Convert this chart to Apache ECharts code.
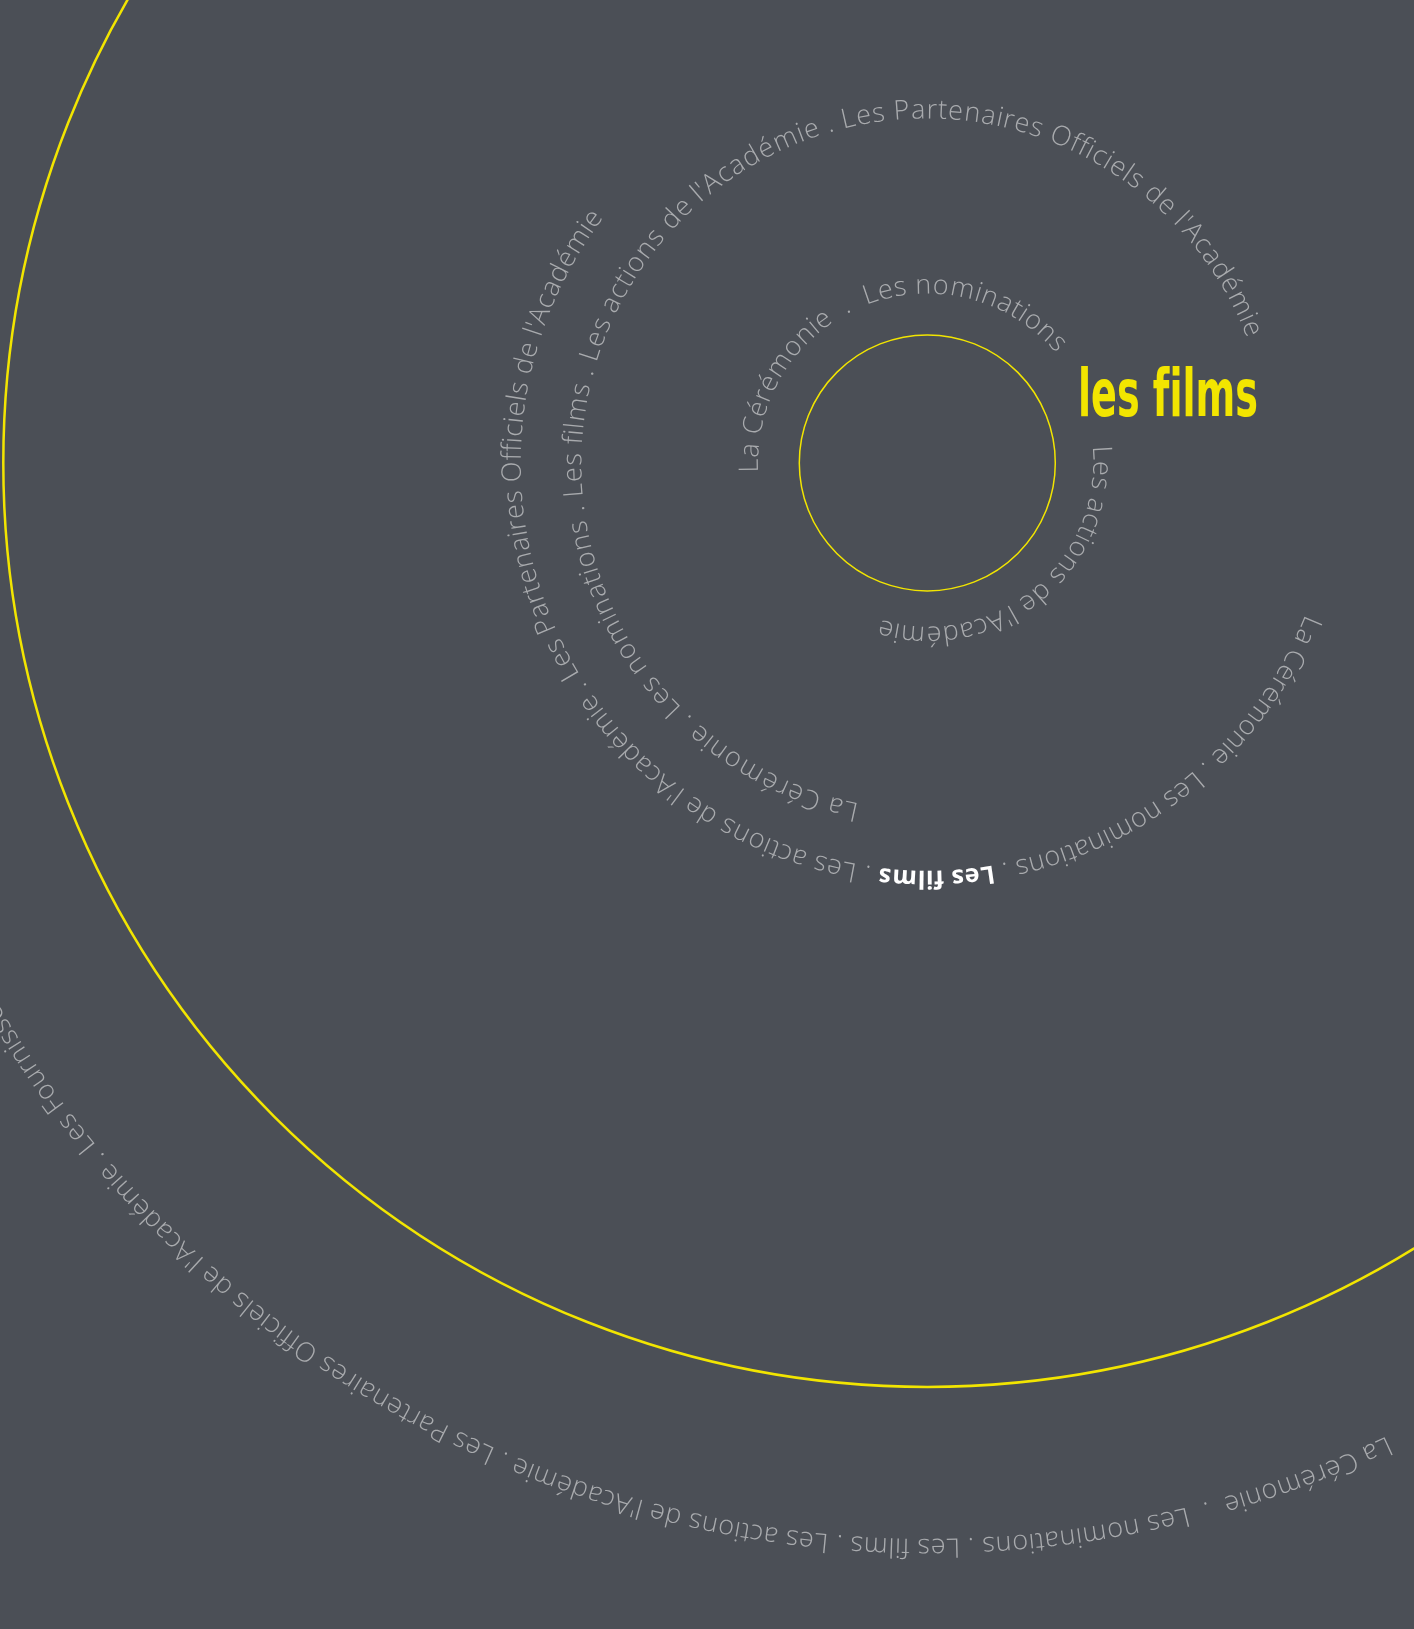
<!DOCTYPE html>
<html>
<head>
<meta charset="utf-8">
<script src="https://cdn.jsdelivr.net/npm/echarts@6/dist/echarts.min.js"></script>
<style>
html,body{margin:0;padding:0;background:#4b4f56;}
#chart{width:1414px;height:1629px;}
</style>
</head>
<body>
<div id="chart"></div>
<script>
// ---------------- data ----------------
const topics = ["La Cérémonie", "Les nominations", "Les films", "Les actions de l'Académie", "Les Partenaires Officiels de l'Académie"];
const extraTopic = "Les Fournisseurs Officiels de l'Académie";
const highlightTitle = "les f\u200Cilms";
const circleRadii = [128, 924];

// ---------------- layout / styles ----------------
const SEP = " . ";
const WIDE_SEP = "  .  ";
const FAMILY = "'Open Sans', 'Noto Sans', sans-serif";
const STYLES = {
  g: { weight: 300, size: 27, color: '#a9abae', family: FAMILY },
  b: { weight: 700, size: 25, color: '#ffffff', family: FAMILY }
};
const TITLE_STYLE = { weight: 700, size: 66, color: '#f2e500', family: "'Liberation Sans Narrow', 'DejaVu Sans Condensed', sans-serif", width: 180 };
const TITLE_ANCHOR = [163.7, 23.0];
const CENTER = [927.3, 462.9];

const rings = [
  { parts: [[topics[0], 'g'], [WIDE_SEP, 'g'], [topics[1], 'g']], from: 183.4, to: 40.3, rFrom: 177, rTo: 177 },
  { parts: [[topics[3], 'g']], from: 5.9, to: -106.7, rFrom: 174, rTo: 171 },
  { parts: [[topics.join(SEP), 'g']], from: 258.8, to: 21.2, rFrom: 355, rTo: 351 },
  { parts: [[topics[0] + SEP + topics[1] + SEP, 'g']], from: -21.8, to: -80.6, rFrom: 415, rTo: 415 },
  { parts: [[topics[2], 'b'], [SEP + topics[3] + SEP + topics[4], 'g']], from: -80.6, to: -217.2, rFrom: 415, rTo: 414 },
  { parts: [[topics[0] + WIDE_SEP + topics[1] + SEP + topics[2] + SEP + topics[3] + SEP + topics[4] + SEP, 'g']], from: -64.7, to: -140.6, rFrom: 1084, rTo: 1083 },
  { parts: [[extraTopic, 'g']], from: -140.6, continueFrom: 5, rFrom: 1083, rTo: 1083 }
];

// ---------------- build glyph layout ----------------
const mctx = document.createElement('canvas').getContext('2d');
function fontStr(s) { return s.weight + ' ' + s.size + 'px ' + s.family; }
function measure(ch, s) { mctx.font = fontStr(s); return mctx.measureText(ch).width; }

const glyphs = { g: [], b: [] };
const ringK = [];
rings.forEach(function (ring, idx) {
  const chars = [];
  ring.parts.forEach(function (p) {
    for (const ch of p[0]) chars.push({ ch: ch, key: p[1], w: measure(ch, STYLES[p[1]]) });
  });
  const W = chars.reduce(function (a, c) { return a + c.w; }, 0);
  const rMid = (ring.rFrom + ring.rTo) / 2;
  let k;
  if (ring.to !== undefined) k = ((ring.from - ring.to) * Math.PI / 180 * rMid) / W;
  else k = ringK[ring.continueFrom];
  ringK[idx] = k;
  let cum = 0;
  chars.forEach(function (c) {
    const s = cum + c.w / 2;
    cum += c.w;
    const frac = s / W;
    const r = ring.rFrom + (ring.rTo - ring.rFrom) * frac;
    let theta = ring.from - (s * k / rMid) * 180 / Math.PI;
    theta = ((theta % 360) + 360) % 360;
    if (c.ch.trim()) glyphs[c.key].push({ ch: c.ch, r: r, theta: theta });
  });
});

mctx.font = fontStr(TITLE_STYLE);
const titleScaleX = TITLE_STYLE.width / mctx.measureText(highlightTitle).width;

// ---------------- chart ----------------
const chart = echarts.init(document.getElementById('chart'), null, { renderer: 'canvas', width: 1414, height: 1629 });

function charRenderer(list, st) {
  return function (params, api) {
    const pt = api.coord([api.value(0), api.value(1)]);
    const theta = api.value(1);
    return {
      type: 'text',
      x: pt[0], y: pt[1],
      rotation: (theta - 90) * Math.PI / 180,
      style: {
        text: list[params.dataIndex].ch,
        fill: st.color,
        font: fontStr(st),
        textAlign: 'center', textVerticalAlign: 'middle',
        align: 'center', verticalAlign: 'middle'
      }
    };
  };
}

const option = {
  backgroundColor: '#4b4f56',
  animation: false,
  polar: { center: CENTER, radius: 1200 },
  radiusAxis: { type: 'value', min: 0, max: 1200, show: false },
  angleAxis: { type: 'value', min: 0, max: 360, startAngle: 0, clockwise: false, show: false },
  series: [
    {
      type: 'custom', coordinateSystem: 'polar', silent: true,
      data: circleRadii.map(function (r) { return [r, 0]; }),
      renderItem: function (params, api) {
        const c = api.coord([0, 0]);
        const p = api.coord([api.value(0), 0]);
        const R = Math.hypot(p[0] - c[0], p[1] - c[1]);
        return { type: 'circle', shape: { cx: c[0], cy: c[1], r: R },
          style: { fill: 'none', stroke: '#f2e500', lineWidth: params.dataIndex === 0 ? 1.5 : 2.5 } };
      }
    },
    {
      type: 'custom', coordinateSystem: 'polar', silent: true,
      data: glyphs.g.map(function (g) { return [g.r, g.theta]; }),
      renderItem: charRenderer(glyphs.g, STYLES.g)
    },
    {
      type: 'custom', coordinateSystem: 'polar', silent: true,
      data: glyphs.b.map(function (g) { return [g.r, g.theta]; }),
      renderItem: charRenderer(glyphs.b, STYLES.b)
    },
    {
      type: 'custom', coordinateSystem: 'polar', silent: true,
      data: [TITLE_ANCHOR],
      renderItem: function (params, api) {
        const pt = api.coord([api.value(0), api.value(1)]);
        return {
          type: 'text', x: pt[0], y: pt[1], scaleX: titleScaleX, scaleY: 1,
          style: { text: highlightTitle, fill: TITLE_STYLE.color, font: fontStr(TITLE_STYLE),
            textAlign: 'left', textVerticalAlign: 'middle', align: 'left', verticalAlign: 'middle' }
        };
      }
    }
  ]
};
chart.setOption(option);
</script>
</body>
</html>
